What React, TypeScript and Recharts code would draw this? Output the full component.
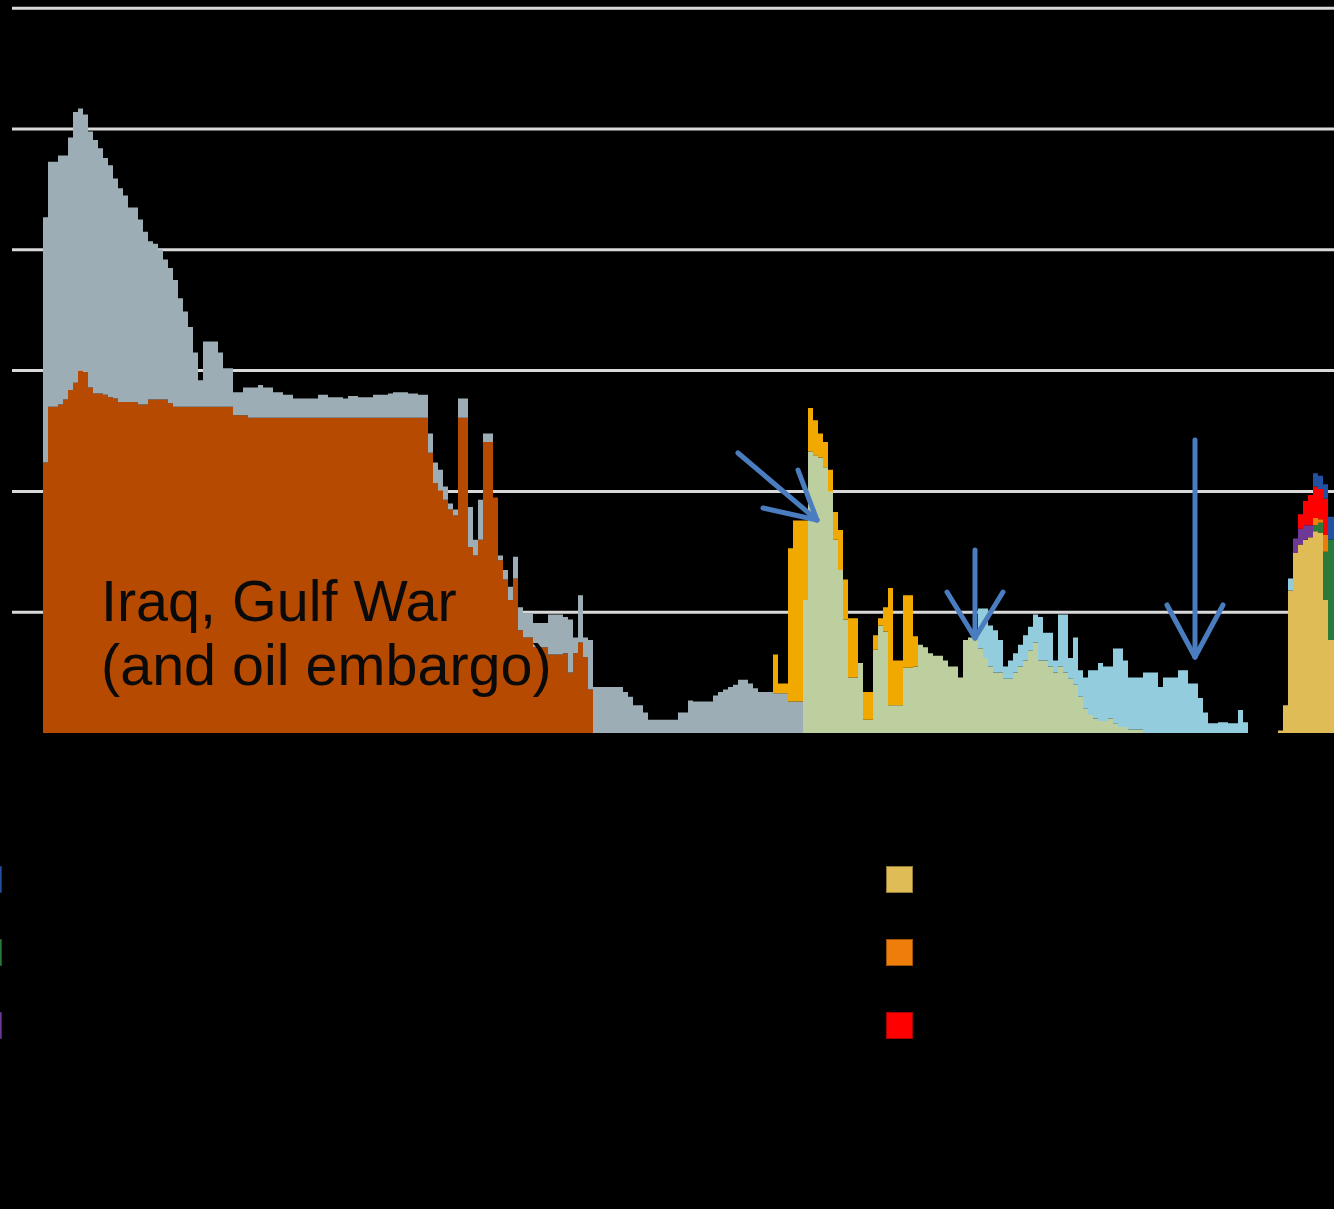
import React from 'react';
import {
  ComposedChart,
  Area,
  XAxis,
  YAxis,
  CartesianGrid,
  ReferenceLine,
  ReferenceDot,
  Legend,
} from 'recharts';

if (typeof document !== 'undefined') {
  document.body.style.margin = '0';
  document.body.style.background = '#000';
}

// x: months since the start of the record (one step per month); y: million barrels per day.
// Each run is [first month, value] and the value holds until the next run starts.
type Run = [number, number];

const iraqRuns: Run[] = [
  [0, 2.24], [1, 2.7], [3, 2.72], [4, 2.76], [5, 2.84], [6, 2.9], [7, 3.0], [8, 2.99], [9, 2.86],
  [10, 2.81], [12, 2.8], [13, 2.78], [14, 2.77], [15, 2.74], [19, 2.72], [21, 2.76], [25, 2.73],
  [26, 2.7], [38, 2.63], [41, 2.61], [77, 2.32], [78, 2.07], [79, 2.01], [80, 1.93], [81, 1.85],
  [82, 1.8], [83, 2.61], [85, 1.54], [86, 1.47], [87, 1.6], [88, 2.41], [90, 1.95], [91, 1.43],
  [92, 1.27], [93, 1.1], [94, 1.28], [95, 0.85], [96, 0.79], [98, 0.71], [101, 0.65], [104, 0.66],
  [105, 0.5], [106, 0.66], [107, 0.75], [108, 0.63], [109, 0.36], [110, 0],
];

const grayRuns: Run[] = [
  [0, 2.03], [3, 2.06], [4, 2.02], [5, 2.09], [6, 2.24], [7, 2.17], [8, 2.13], [9, 2.12], [10, 2.1],
  [11, 2.03], [12, 1.96], [13, 1.92], [14, 1.82], [15, 1.77], [16, 1.71], [17, 1.61], [19, 1.53],
  [20, 1.43], [21, 1.31], [22, 1.29], [23, 1.24], [24, 1.16], [25, 1.12], [26, 1.05], [27, 0.9],
  [28, 0.79], [29, 0.66], [30, 0.45], [31, 0.22], [32, 0.54], [35, 0.45], [36, 0.32], [38, 0.19],
  [40, 0.23], [41, 0.25], [43, 0.27], [44, 0.25], [46, 0.21], [48, 0.19], [50, 0.16], [55, 0.19],
  [57, 0.17], [60, 0.16], [61, 0.18], [63, 0.17], [66, 0.19], [69, 0.2], [70, 0.21], [73, 0.2],
  [75, 0.19], [77, 0.16], [78, 0.17], [80, 0.11], [81, 0.05], [83, 0.16], [85, 0.33], [86, 0.13],
  [87, 0.33], [88, 0.07], [90, 0], [91, 0.04], [92, 0.08], [93, 0.11], [94, 0.18], [95, 0.19],
  [96, 0.2], [101, 0.33], [104, 0.3], [105, 0.44], [106, 0.13], [107, 0.39], [108, 0.16], [109, 0.41],
  [110, 0.38], [116, 0.34], [117, 0.3], [118, 0.23], [120, 0.17], [121, 0.11], [127, 0.17], [129, 0.27],
  [130, 0.26], [134, 0.31], [135, 0.34], [136, 0.36], [137, 0.38], [138, 0.4], [139, 0.44], [141, 0.41],
  [142, 0.37], [143, 0.34], [146, 0.33], [149, 0.26], [152, 0],
];

const greenRuns: Run[] = [
  [152, 1.1], [153, 2.33], [154, 2.3], [155, 2.28], [156, 2.2], [157, 2.0], [158, 1.6], [159, 1.35],
  [160, 0.94], [161, 0.46], [163, 0.58], [164, 0.11], [166, 0.69], [167, 0.89], [168, 0.84], [169, 0.23],
  [172, 0.54], [174, 0.55], [175, 0.73], [176, 0.71], [177, 0.66], [178, 0.64], [180, 0.6], [181, 0.55],
  [183, 0.46], [184, 0.77], [185, 0.79], [187, 0.7], [188, 0.62], [189, 0.55], [190, 0.5], [192, 0.45],
  [194, 0.5], [195, 0.55], [196, 0.6], [197, 0.68], [198, 0.75], [199, 0.6], [201, 0.55], [202, 0.5],
  [203, 0.55], [204, 0.5], [205, 0.45], [206, 0.4], [207, 0.3], [208, 0.2], [209, 0.15], [210, 0.12],
  [211, 0.1], [213, 0.12], [214, 0.08], [215, 0.05], [217, 0.03], [220, 0],
];

const lightBlueRuns: Run[] = [
  [187, 0.33], [188, 0.41], [189, 0.34], [190, 0.35], [191, 0.27], [192, 0.1], [193, 0.15], [194, 0.16],
  [195, 0.18], [196, 0.21], [197, 0.2], [198, 0.23], [199, 0.36], [200, 0.23], [201, 0.28], [202, 0.1],
  [203, 0.43], [204, 0.48], [205, 0.17], [206, 0.39], [207, 0.22], [208, 0.26], [209, 0.37], [210, 0.4],
  [211, 0.48], [212, 0.45], [213, 0.43], [214, 0.62], [215, 0.65], [216, 0.55], [217, 0.43], [220, 0.5],
  [223, 0.38], [224, 0.46], [227, 0.52], [229, 0.41], [231, 0.29], [232, 0.17], [233, 0.08], [235, 0.09],
  [237, 0.08], [239, 0.19], [240, 0.09], [241, 0], [249, 0.1], [250, 0],
];

const amberRuns: Run[] = [
  [146, 0.32], [147, 0.08], [149, 1.27], [150, 1.5], [152, 0.66], [153, 0.36], [154, 0.29], [155, 0.2],
  [156, 0.21], [157, 0.18], [158, 0.23], [159, 0.33], [161, 0.49], [163, 0], [164, 0.23], [166, 0.12],
  [167, 0.06], [168, 0.2], [169, 0.97], [170, 0.37], [172, 0.6], [174, 0.25], [175, 0],
];

const goldRuns: Run[] = [
  [247, 0.02], [248, 0.23], [249, 1.18], [250, 1.49], [251, 1.56], [252, 1.6], [253, 1.62], [254, 1.67],
  [255, 1.66], [256, 1.1], [257, 0.77],
];
const purpleRuns: Run[] = [[250, 0.12], [251, 0.13], [252, 0.12], [253, 0.1], [254, 0]];
const darkGreenRuns: Run[] = [[254, 0.05], [255, 0.08], [256, 0.4], [257, 0.83]];
const orangeRuns: Run[] = [[254, 0.06], [255, 0.03], [256, 0.14], [257, 0]];
const redRuns: Run[] = [[251, 0.12], [252, 0.2], [253, 0.25], [254, 0.26], [255, 0.25], [256, 0.3], [257, 0]];
const darkBlueRuns: Run[] = [[254, 0.11], [255, 0.11], [256, 0.12], [257, 0.19]];

const gridValues = [1, 2, 3, 4, 5, 6];

// annotation arrows, in data coordinates [month, mb/d]
const arrowSegments: [number, number, number, number][] = [
  [139.0, 2.318, 154.8, 1.763],
  [144.0, 1.863, 154.8, 1.763],
  [151.0, 2.177, 154.8, 1.763],
  [186.4, 1.515, 186.4, 0.786],
  [180.8, 1.167, 186.4, 0.786],
  [192.0, 1.167, 186.4, 0.786],
  [230.4, 2.425, 230.4, 0.629],
  [224.8, 1.06, 230.4, 0.629],
  [236.0, 1.06, 230.4, 0.629],
];

type Series = { key: string; name: string; color: string; runs: Run[]; legend: boolean };

const SERIES: Series[] = [
  { key: 'iraq', name: 'Iraq', color: '#B64A00', runs: iraqRuns, legend: false },
  { key: 'gray', name: 'Kuwait and other', color: '#9DADB5', runs: grayRuns, legend: false },
  { key: 'gold', name: 'gold', color: '#DFBC56', runs: goldRuns, legend: true },
  { key: 'green', name: 'green', color: '#BECF9F', runs: greenRuns, legend: false },
  { key: 'lightBlue', name: 'lightBlue', color: '#93CCDC', runs: lightBlueRuns, legend: false },
  { key: 'purple', name: 'purple', color: '#6E3896', runs: purpleRuns, legend: true },
  { key: 'darkGreen', name: 'darkGreen', color: '#2A7A3B', runs: darkGreenRuns, legend: true },
  { key: 'orange', name: 'orange', color: '#EE7D0A', runs: orangeRuns, legend: true },
  { key: 'red', name: 'red', color: '#FF0000', runs: redRuns, legend: true },
  { key: 'darkBlue', name: 'darkBlue', color: '#2151A0', runs: darkBlueRuns, legend: true },
  { key: 'amber', name: 'amber', color: '#F1A900', runs: amberRuns, legend: false },
];

function valueAt(runs: Run[], u: number): number {
  let v = 0;
  for (const [start, val] of runs) {
    if (start <= u) v = val;
    else break;
  }
  return v;
}

const months: number[] = [];
for (let u = -7; u <= 259; u++) months.push(u);

const data = months.map((u) => {
  const row: Record<string, number> = { u };
  for (const s of SERIES) row[s.key] = valueAt(s.runs, u);
  return row;
});

const legendPos: Record<string, { left: number; top: number }> = {
  darkBlue: { left: -25, top: 866 },
  darkGreen: { left: -25, top: 939 },
  purple: { left: -25, top: 1012 },
  gold: { left: 886, top: 866 },
  orange: { left: 886, top: 939 },
  red: { left: 886, top: 1012 },
};

const LegendContent = (props: any) => {
  const payload: any[] = props.payload || [];
  return (
    <div style={{ position: 'relative', width: 1334, height: 1209 }}>
      {payload.map((p) => {
        const key = String(p.dataKey);
        const pos = legendPos[key];
        const s = SERIES.find((x) => x.key === key);
        if (!pos || !s) return null;
        return (
          <div
            key={key}
            style={{
              position: 'absolute',
              left: pos.left,
              top: pos.top,
              width: 27,
              height: 27,
              background: s.color,
              boxSizing: 'border-box',
              border: '1px solid rgba(0,0,0,0.35)',
            }}
          />
        );
      })}
    </div>
  );
};

const IraqLabel = (props: any) => {
  const vb = props.viewBox || {};
  const x = (vb.x ?? 0) + (vb.width ?? 0) / 2;
  const y = (vb.y ?? 0) + (vb.height ?? 0) / 2;
  return (
    <text x={x} y={y} fill="#0a0a0a" fontSize={57.5} fontFamily="'Liberation Sans', Arial, sans-serif">
      <tspan x={x} dy={0}>Iraq, Gulf War</tspan>
      <tspan x={x} dy={64}>(and oil embargo)</tspan>
    </text>
  );
};

export default function App() {
  return (
    <div style={{ position: 'relative', width: 1334, height: 1209, background: '#000', overflow: 'hidden' }}>
      <ComposedChart
        width={1334}
        height={1209}
        data={data}
        margin={{ top: 0, right: 0, bottom: 476, left: 12 }}
      >
        <CartesianGrid
          vertical={false}
          horizontalValues={gridValues}
          stroke="#d9d9d9"
          strokeWidth={3}
        />
        <XAxis type="number" dataKey="u" domain={[-6.2, 258.2]} allowDataOverflow hide />
        <YAxis type="number" domain={[0, 6.068]} ticks={gridValues} allowDataOverflow hide />
        {SERIES.map((s) => (
          <Area
            key={s.key}
            dataKey={s.key}
            name={s.name}
            stackId="a"
            type="stepAfter"
            fill={s.color}
            fillOpacity={1}
            stroke="none"
            dot={false}
            activeDot={false}
            isAnimationActive={false}
            legendType={s.legend ? 'square' : 'none'}
          />
        ))}
        {arrowSegments.map((a, i) => (
          <ReferenceLine
            key={'arrow' + i}
            segment={[{ x: a[0], y: a[1] }, { x: a[2], y: a[3] }]}
            stroke="#4A7DC0"
            strokeWidth={5}
            strokeLinecap="round"
            ifOverflow="visible"
          />
        ))}
        <ReferenceDot x={11.6} y={0.927} r={0.5} fill="none" stroke="none" ifOverflow="visible" label={IraqLabel} />
        <Legend
          layout="horizontal"
          verticalAlign="middle"
          align="center"
          content={LegendContent}
          wrapperStyle={{ position: 'absolute', left: 0, top: 0, width: 1334, height: 1209, pointerEvents: 'none' }}
        />
      </ComposedChart>
    </div>
  );
}
